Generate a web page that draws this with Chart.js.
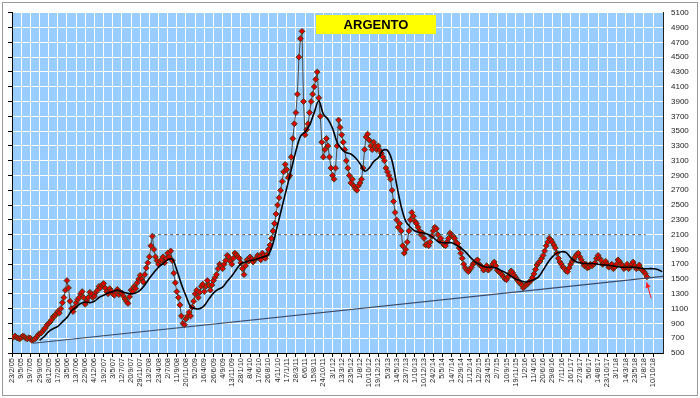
<!DOCTYPE html>
<html><head><meta charset="utf-8">
<script src="https://cdn.jsdelivr.net/npm/chart.js@4.4.1/dist/chart.umd.min.js"></script>
<style>html,body{margin:0;padding:0;background:#fff}#wrap{width:700px;height:398px;position:relative}</style>
</head><body><div id="wrap"><canvas id="c" width="700" height="398"></canvas></div>
<script>
const dateLabels = ['23/2/05','9/5/05','19/7/05','29/9/05','8/12/05','17/2/06','3/5/06','13/7/06','22/9/06','4/12/06','19/2/07','3/5/07','12/7/07','20/9/07','29/11/07','13/2/08','23/4/08','2/7/08','11/9/08','20/11/08','5/2/09','16/4/09','26/6/09','4/9/09','13/11/09','28/1/10','8/4/10','17/6/10','26/8/10','4/11/10','17/1/11','28/3/11','6/6/11','15/8/11','24/10/11','3/1/12','13/3/12','23/5/12','1/8/12','10/10/12','19/12/12','5/3/13','14/5/13','23/7/13','1/10/13','10/12/13','24/2/14','5/5/14','14/7/14','22/9/14','1/12/14','12/2/15','23/4/15','2/7/15','10/9/15','19/11/15','1/2/16','11/4/16','20/6/16','29/8/16','7/11/16','16/1/17','27/3/17','5/6/17','14/8/17','23/10/17','3/1/18','14/3/18','23/5/18','1/8/18','10/10/18'];

// price samples, one every sixth of a label interval
const priceStep = 1/6;
const priceValues = [
720,715,730,710,700,690,710,730,720,700,690,705,700,670,680,690,710,740,760,770,
790,820,840,880,900,920,950,990,1000,1030,1060,1040,1100,1180,1250,1350,1480,1380,1200,1100,
1060,1120,1180,1220,1250,1300,1330,1250,1160,1200,1250,1320,1300,1250,1270,1320,1350,1400,1380,1420,
1440,1380,1330,1300,1370,1340,1300,1280,1330,1360,1290,1320,1310,1270,1230,1200,1170,1260,1350,1330,
1400,1370,1450,1500,1550,1500,1460,1560,1650,1720,1800,1950,2080,1900,1800,1750,1700,1740,1760,1800,
1720,1780,1850,1800,1880,1750,1580,1450,1330,1250,1150,1000,900,880,960,1000,1050,1000,1120,1200,
1300,1350,1250,1320,1400,1430,1330,1400,1480,1420,1350,1420,1480,1520,1560,1640,1700,1680,1640,1700,
1750,1820,1800,1740,1700,1780,1850,1830,1800,1780,1720,1640,1560,1680,1760,1740,1800,1770,1730,1760,
1780,1820,1800,1760,1850,1820,1780,1830,1900,1960,2050,2150,2250,2380,2500,2600,2700,2820,2950,3050,
2980,2870,2900,3150,3400,3600,3750,4000,4500,4750,4850,3900,3450,3520,3600,3750,3900,4000,4100,4200,
4300,3950,3700,3350,3150,3250,3400,3300,3150,3000,2900,2850,3000,3300,3650,3550,3450,3350,3250,3100,
3000,2900,2800,2850,2760,2720,2700,2760,2800,2850,3000,3250,3420,3460,3380,3300,3250,3350,3300,3250,
3300,3240,3200,3150,3100,3000,2950,2900,2850,2700,2550,2400,2300,2200,2250,2150,1950,1850,1900,2000,
2150,2300,2400,2350,2280,2250,2200,2150,2100,2120,2050,1960,1980,1950,2000,2080,2150,2200,2180,2100,
2020,2050,1990,1960,1950,2000,2050,2120,2100,2080,2050,2000,1980,1920,1850,1780,1700,1650,1620,1600,
1630,1660,1700,1720,1740,1760,1700,1680,1660,1620,1650,1680,1620,1640,1660,1700,1730,1680,1620,1600,
1580,1560,1530,1500,1490,1530,1570,1610,1590,1550,1520,1490,1460,1440,1420,1380,1400,1420,1440,1460,
1480,1520,1570,1630,1690,1720,1740,1780,1820,1880,1950,2000,2050,2030,2000,1960,1920,1850,1780,1730,
1700,1660,1640,1610,1600,1650,1700,1740,1760,1800,1830,1850,1800,1760,1720,1680,1700,1650,1660,1700,
1680,1700,1720,1780,1820,1780,1750,1700,1720,1740,1700,1660,1680,1700,1640,1660,1700,1760,1740,1700,
1680,1640,1660,1700,1640,1660,1700,1730,1680,1640,1650,1690,1640,1620,1600,1570,1530];

// moving average, from label 3 every half label interval
const maStart = 3, maStep = 0.5;
const maValues = [670,720,790,830,860,920,980,1070,1120,1170,1190,1180,1200,1250,1280,1310,1330,1350,1330,1310,
1300,1310,1350,1420,1510,1590,1660,1710,1760,1770,1620,1430,1270,1130,1100,1100,1140,1230,1310,1360,
1390,1470,1540,1630,1710,1730,1750,1760,1780,1800,1830,1980,2230,2480,2730,2980,3230,3430,3490,3580,
3750,3910,3730,3660,3540,3350,3260,3210,3190,3140,3060,2960,3000,3090,3140,3240,3240,3100,2780,2480,
2280,2200,2150,2130,2120,2100,2060,2010,1990,1990,1990,1960,1920,1870,1800,1740,1700,1670,1660,1660,
1640,1610,1580,1540,1500,1480,1460,1470,1490,1530,1620,1720,1800,1850,1870,1860,1790,1740,1720,1710,
1710,1710,1700,1690,1690,1680,1670,1660,1660,1660,1660,1650,1640,1640,1640,1630,1600];

const trendPos = [2.29, 71.09];
const trendValues = [632, 1536];
const resistancePos = [15.3, 69.2];
const resistanceValues = [2100, 2100];
const arrowPos = [69.8, 69.3];
const arrowValues = [1240, 1455];
const yMin = 500, yMax = 5100;
const titleText = 'ARGENTO';

const priceData = priceValues.map((v, i) => ({x: i * priceStep, y: v}));
const maData = maValues.map((v, i) => ({x: maStart + i * maStep, y: v}));
const trendData = trendPos.map((p, i) => ({x: p, y: trendValues[i]}));
const resData = resistancePos.map((p, i) => ({x: p, y: resistanceValues[i]}));

const FONT = 'Liberation Sans, Arial, sans-serif';

const decor = {
  id: 'decor',
  beforeDraw(chart) {
    const ctx = chart.ctx, a = chart.chartArea;
    ctx.save();
    ctx.fillStyle = '#ffffff';
    ctx.fillRect(0, 0, chart.width, chart.height);
    ctx.strokeStyle = '#9a9a9a';
    ctx.lineWidth = 1;
    ctx.strokeRect(2.5, 2.5, chart.width - 5, chart.height - 5);
    ctx.fillStyle = '#99CCFF';
    ctx.fillRect(a.left, a.top, a.right - a.left, a.bottom - a.top);
    ctx.restore();
  },
  afterDraw(chart) {
    const ctx = chart.ctx, xs = chart.scales.x, ys = chart.scales.y;
    ctx.save();
    ctx.fillStyle = '#FFFF00';
    ctx.fillRect(316, 15, 120, 19);
    ctx.fillStyle = '#000';
    ctx.font = 'bold 13px ' + FONT;
    ctx.textAlign = 'center';
    ctx.textBaseline = 'middle';
    ctx.fillText(titleText, 376, 25);
    const x0 = xs.getPixelForValue(arrowPos[0]), y0 = ys.getPixelForValue(arrowValues[0]);
    const x1 = xs.getPixelForValue(arrowPos[1]), y1 = ys.getPixelForValue(arrowValues[1]);
    ctx.strokeStyle = '#FF2020'; ctx.fillStyle = '#FF2020'; ctx.lineWidth = 1;
    ctx.beginPath(); ctx.moveTo(x0, y0); ctx.lineTo(x1, y1); ctx.stroke();
    const ang = Math.atan2(y1 - y0, x1 - x0), L = 6;
    ctx.beginPath();
    ctx.moveTo(x1, y1);
    ctx.lineTo(x1 - L * Math.cos(ang - 0.45), y1 - L * Math.sin(ang - 0.45));
    ctx.lineTo(x1 - L * Math.cos(ang + 0.45), y1 - L * Math.sin(ang + 0.45));
    ctx.closePath(); ctx.fill();
    ctx.restore();
  }
};

new Chart(document.getElementById('c'), {
  type: 'line',
  data: {
    datasets: [
      {label: 'media', data: maData, order: 0, borderColor: '#000', borderWidth: 1.6, pointRadius: 0, tension: 0.35, fill: false},
      {label: 'trend', data: trendData, order: 1, borderColor: '#3a4a66', borderWidth: 1.2, pointRadius: 0, fill: false},
      {label: 'res', data: resData, order: 2, borderColor: '#555', borderWidth: 1, borderDash: [3, 3], pointRadius: 0, fill: false},
      {label: 'prezzo', data: priceData, order: 3, borderColor: '#4a4a4a', borderWidth: 1, fill: false, tension: 0,
       pointStyle: 'rectRot', pointRadius: 2.9, pointBackgroundColor: '#E00000', pointBorderColor: '#4a3a10', pointBorderWidth: 1}
    ]
  },
  options: {
    responsive: false,
    animation: false,
    devicePixelRatio: 1,
    layout: {padding: {left: 0, right: 0, top: 11, bottom: 0}},
    plugins: {legend: {display: false}, tooltip: {enabled: false}, title: {display: false}},
    scales: {
      x: {
        type: 'linear', min: 0, max: 71.09, position: 'bottom',
        afterBuildTicks(s) { s.ticks = dateLabels.map((_, i) => ({value: i})); },
        afterFit(s) { s.height = 45; },
        ticks: {autoSkip: false, minRotation: 90, maxRotation: 90, padding: 1, color: '#222',
          font: {family: FONT, size: 7.5}, callback: (v) => dateLabels[v] ?? ''},
        grid: {color: '#ffffff', lineWidth: 1, tickColor: '#000', tickLength: 4, drawTicks: true},
        border: {display: true, color: '#000', width: 1}
      },
      y: {
        type: 'linear', min: yMin, max: yMax, position: 'right',
        afterBuildTicks(s) { const t = []; for (let v = yMin; v <= yMax; v += 100) t.push({value: v}); s.ticks = t; },
        afterFit(s) { s.width = 37; },
        ticks: {padding: 8, color: '#222', font: {family: FONT, size: 8},
          callback: (v) => ((v - yMin) % 200 === 0 ? String(v) : '')},
        grid: {drawTicks: false,
          color: (c) => (c.tick && (c.tick.value - yMin) % 200 === 0 ? '#ffffff' : 'rgba(255,255,255,0.55)'),
          lineWidth: 1},
        border: {display: true, color: '#222', width: 1}
      },
      y2: {
        type: 'linear', min: yMin, max: yMax, position: 'left',
        afterBuildTicks(s) { const t = []; for (let v = yMin; v <= yMax; v += 200) t.push({value: v}); s.ticks = t; },
        afterFit(s) { s.width = 12; },
        ticks: {padding: 0, font: {size: 1}, callback: () => ''},
        grid: {drawOnChartArea: false, drawTicks: true, tickLength: 4, tickColor: '#000', color: '#000'},
        border: {display: true, color: '#000', width: 1}
      }
    }
  },
  plugins: [decor]
});
</script>
</body></html>
